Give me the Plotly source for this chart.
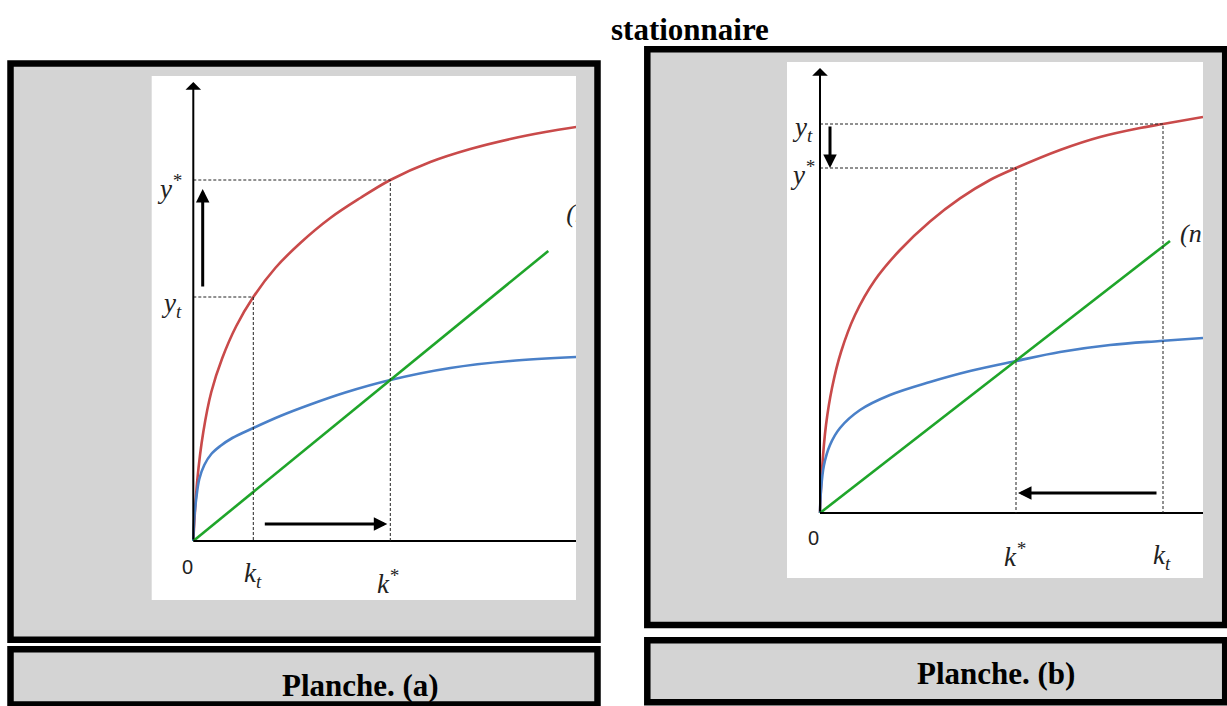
import plotly.graph_objects as go

W, H = 1227, 706

# ---------------- Panel (a) : values (model units) ----------------
a_red_k = [0, 0.4, 1.0, 1.8, 2.9, 4.3, 6.0, 8.2, 10.7, 13.7, 16.7, 19.7, 23.7, 27.7, 31.7, 35.2, 38.3]
a_red_y = [0, 6.1, 10.9, 14.9, 18.3, 21.5, 24.4, 27.3, 29.8, 32.3, 34.3, 36.1, 37.9, 39.2, 40.2, 40.9, 41.4]
a_blue_k = [0, 0.1, 0.3, 0.6, 1.1, 1.8, 2.7, 3.9, 6.0, 8.7, 11.7, 15.2, 19.7, 25.7, 31.7, 38.3]
a_blue_y = [0, 2.3, 4.3, 6.2, 7.6, 8.7, 9.5, 10.3, 11.3, 12.5, 13.65, 14.85, 16.1, 17.3, 18.0, 18.4]
a_green_k = [0, 35.5]
a_green_y = [0, 29.0]
a_kt, a_yt = 6.0, 24.4
a_ks, a_ys = 19.7, 36.1

# ---------------- Panel (b) ----------------
b_red_k = [0, 0.2, 0.6, 1.2, 2.1, 3.5, 5.5, 8.0, 11.0, 14.0, 17.0, 19.6, 24.0, 28.0, 32.0, 34.3, 38.3]
b_red_y = [0, 4.3, 8.8, 12.5, 16.1, 19.8, 23.3, 26.3, 29.15, 31.46, 33.3, 34.5, 36.3, 37.6, 38.5, 38.9, 39.6]
b_blue_k = [0, 0.1, 0.4, 1.0, 2.0, 4.0, 7.0, 11.0, 15.0, 19.6, 24.0, 29.0, 34.0, 38.3]
b_blue_y = [0, 2.3, 4.8, 6.8, 8.5, 10.3, 11.8, 13.1, 14.2, 15.2, 16.1, 16.8, 17.2, 17.5]
b_green_k = [0, 35.0]
b_green_y = [0, 27.2]
b_kt, b_yt = 34.3, 38.9
b_ks, b_ys = 19.6, 34.5

RED, BLUE, GREEN = "#c94a4a", "#4a80c8", "#1fa52a"
SERIF = "Liberation Serif"


def px(x):
    return x / W


def py(y):
    return 1 - y / H


fig = go.Figure()


def add_panel(xa, ya, rk, ry, bk, by, gk, gy, kt, yt, ks, ys, xmax):
    for k, v, c in ((rk, ry, RED), (bk, by, BLUE), (gk, gy, GREEN)):
        fig.add_trace(go.Scatter(x=k, y=v, mode="lines", line=dict(color=c, width=2.6, shape="spline", smoothing=1.0),
                                 xaxis=xa, yaxis=ya, hoverinfo="skip", showlegend=False))
    fig.add_trace(go.Scatter(x=[0, xmax], y=[0, 0], mode="lines", line=dict(color="black", width=2.2),
                             xaxis=xa, yaxis=ya, hoverinfo="skip", showlegend=False))
    for kk, yy in ((kt, yt), (ks, ys)):
        fig.add_trace(go.Scatter(x=[0, kk, kk], y=[yy, yy, 0], mode="lines",
                                 line=dict(color="#222", width=1, dash="3px,2px"),
                                 xaxis=xa, yaxis=ya, hoverinfo="skip", showlegend=False))


add_panel("x", "y", a_red_k, a_red_y, a_blue_k, a_blue_y, a_green_k, a_green_y, a_kt, a_yt, a_ks, a_ys, 45)
add_panel("x2", "y2", b_red_k, b_red_y, b_blue_k, b_blue_y, b_green_k, b_green_y, b_kt, b_yt, b_ks, b_ys, 45)

lab_font = dict(family=SERIF, size=26, color="#222")
fig.add_trace(go.Scatter(x=[37.3], y=[32.6], mode="text", text=["<i>(n+δ)k</i>"], textposition="middle right",
                         textfont=lab_font, cliponaxis=True, xaxis="x", yaxis="y", hoverinfo="skip", showlegend=False))
fig.add_trace(go.Scatter(x=[36.0], y=[27.8], mode="text", text=["<i>(n+δ)k</i>"], textposition="middle right",
                         textfont=lab_font, cliponaxis=True, xaxis="x2", yaxis="y2", hoverinfo="skip", showlegend=False))

# ---------------- boxes ----------------
shapes = []
GRAY = "#d4d4d4"
BW = 6.5
for (x0, y0, x1, y1) in ((10.5, 63.5, 597.5, 639.7), (10.5, 649.3, 597.5, 704.5),
                         (647.3, 49.3, 1225.2, 625.0), (647.3, 640.3, 1225.2, 702.3)):
    shapes.append(dict(type="rect", xref="paper", yref="paper", x0=px(x0), x1=px(x1), y0=py(y1), y1=py(y0),
                       line=dict(color="black", width=BW), fillcolor=GRAY, layer="below"))
for (x0, y0, x1, y1) in ((151.7, 76, 576, 600), (787, 62, 1203, 578)):
    shapes.append(dict(type="rect", xref="paper", yref="paper", x0=px(x0), x1=px(x1), y0=py(y1), y1=py(y0),
                       line=dict(width=0), fillcolor="white", layer="below"))

ann = []
big = dict(family=SERIF, size=31, color="black")
for (cx, cy, t) in ((690, 30, "<b>stationnaire</b>"), (360, 685, "<b>Planche. (a)</b>"), (996, 673, "<b>Planche. (b)</b>")):
    ann.append(dict(xref="paper", yref="paper", x=px(cx), y=py(cy), text=t, showarrow=False,
                    xanchor="center", yanchor="middle", font=big))


def arrow(xr, yr, x0, y0, x1, y1, width=3, head=2, size=1.0):
    ann.append(dict(xref=xr, yref=yr, axref=xr, ayref=yr, x=x1, y=y1, ax=x0, ay=y0, text="", showarrow=True,
                    arrowhead=head, arrowsize=size, arrowwidth=width, arrowcolor="black"))


def label(xr, yr, x, y, t, size=27, fam=SERIF):
    ann.append(dict(xref=xr, yref=yr, x=x, y=y, text=t, showarrow=False, xanchor="center", yanchor="middle",
                    font=dict(family=fam, size=size, color="#222")))


ZERO = "Liberation Sans Narrow, Liberation Sans"
# panel a
arrow("x", "y", 0, 0, 0, 45.9, width=2, head=1, size=1.3)
arrow("x", "y", 0.94, 25.3, 0.94, 35.2, width=3, head=2, size=0.9)
arrow("x", "y", 7.0, 1.7, 19.4, 1.7, width=3, head=2, size=0.9)
label("x", "y", -0.6, -2.6, "0", size=20, fam=ZERO)
label("x", "y", a_kt, -3.4, "<i>k<sub>t</sub></i>")
label("x", "y", a_ks - 0.2, -4.1, "<i>k<sup>*</sup></i>")
label("x", "y", -2.4, 35.4, "<i>y<sup>*</sup></i>")
label("x", "y", -2.2, 23.6, "<i>y<sub>t</sub></i>")

# panel b
arrow("x2", "y2", 0, 0, 0, 44.5, width=2, head=1, size=1.3)
arrow("x2", "y2", 1.0, 38.8, 1.0, 34.5, width=3, head=2, size=0.9)
arrow("x2", "y2", 33.8, 2.0, 19.8, 2.0, width=3, head=2, size=0.9)
label("x2", "y2", -0.7, -2.5, "0", size=20, fam=ZERO)
label("x2", "y2", b_ks - 0.1, -4.2, "<i>k<sup>*</sup></i>")
label("x2", "y2", b_kt - 0.1, -4.4, "<i>k<sub>t</sub></i>")
label("x2", "y2", -1.8, 38.4, "<i>y<sub>t</sub></i>")
label("x2", "y2", -1.8, 34.0, "<i>y<sup>*</sup></i>")

ax_common = dict(visible=False, showgrid=False, zeroline=False, fixedrange=True)
fig.update_layout(
    width=W, height=H, margin=dict(l=0, r=0, t=0, b=0),
    paper_bgcolor="white", plot_bgcolor="rgba(0,0,0,0)",
    shapes=shapes, annotations=ann, showlegend=False,
    xaxis=dict(domain=[px(151.7), px(576)], range=[-4.16, 38.27], anchor="y", **ax_common),
    yaxis=dict(domain=[py(600), py(76)], range=[-5.9, 46.5], anchor="x", **ax_common),
    xaxis2=dict(domain=[px(787), px(1203)], range=[-3.3, 38.3], anchor="y2", **ax_common),
    yaxis2=dict(domain=[py(578), py(62)], range=[-6.5, 45.1], anchor="x2", **ax_common),
)

fig.write_html("out.html")
